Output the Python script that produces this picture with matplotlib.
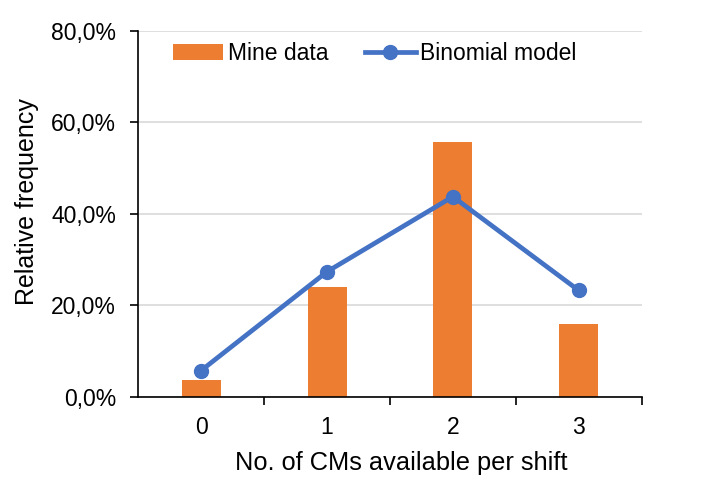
import numpy as np
import matplotlib.pyplot as plt
from matplotlib.ticker import FuncFormatter, FixedLocator

plt.rcParams['font.family'] = ['Liberation Sans', 'DejaVu Sans']
plt.rcParams['font.size'] = 16.5

categorias = ['0', '1', '2', '3']
mine_data = [3.7, 23.9, 55.7, 15.9]  # %
binomial = [5.7, 27.3, 43.7, 23.2]  # %

x = np.arange(len(categorias))

fig = plt.figure(figsize=(7.09, 4.86), dpi=100)
ax = fig.add_axes([0.195, 0.184, 0.71, 0.753])

b = ax.bar(x, mine_data, width=0.31, color='#ED7D31', label='Mine data', zorder=2)
l, = ax.plot(x, binomial, '-o', color='#4472C4', lw=3.4, ms=10, label='Binomial model', zorder=3)

ax.set_xlim(-0.5, 3.5)
ax.set_ylim(0, 80)
ax.set_yticks([0, 20, 40, 60, 80])
ax.yaxis.set_major_formatter(FuncFormatter(lambda v, p: f'{v:.1f}%'.replace('.', ',')))
ax.set_xticks(x)
ax.set_xticklabels(categorias)
ax.xaxis.set_minor_locator(FixedLocator([0.5, 1.5, 2.5, 3.5]))
ax.tick_params(axis='x', which='major', length=0, pad=14)
ax.tick_params(axis='x', which='minor', length=6, width=1.2, direction='out')
ax.tick_params(axis='y', length=6, width=1.2, direction='out', pad=10)

ax.grid(axis='y', color='#D9D9D9', lw=1.2, zorder=0)
ax.set_axisbelow(True)
for s in ['top', 'right']:
    ax.spines[s].set_visible(False)
ax.spines['left'].set_linewidth(1.2)
ax.spines['bottom'].set_linewidth(1.2)

ax.set_xlabel('No. of CMs available per shift', fontsize=18.3, labelpad=8)
ax.xaxis.set_label_coords(0.522, -0.15)
ax.set_ylabel('Relative frequency', fontsize=18, labelpad=10)
ax.yaxis.set_label_coords(-0.198, 0.533)

ax.legend([b, l], ['Mine data', 'Binomial model'], loc='upper center',
          bbox_to_anchor=(0.47, 1.025), ncol=2, frameon=False,
          fontsize=16.5, handlelength=2.2, columnspacing=1.6, handletextpad=0.2)

plt.savefig('out.png', dpi=100)
